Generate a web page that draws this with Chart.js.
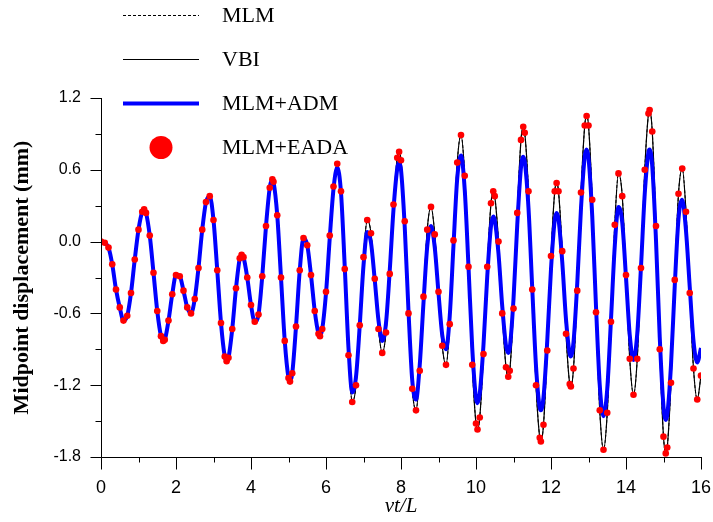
<!DOCTYPE html>
<html>
<head>
<meta charset="utf-8">
<script src="https://cdn.jsdelivr.net/npm/chart.js@4.4.0/dist/chart.umd.min.js"></script>
<style>
  html, body { margin: 0; padding: 0; background: #fff; }
</style>
</head>
<body>
<canvas id="chartMidpoint" width="713" height="522"></canvas>
<script>
// Tempo adimensional vt/L
const t = [
  0, 0.1, 0.2, 0.3, 0.4, 0.5, 0.6, 0.7, 0.8, 0.9,
  1.0, 1.1, 1.15, 1.2, 1.3, 1.4, 1.5, 1.6, 1.66, 1.7, 1.8, 1.9,
  2.0, 2.1, 2.2, 2.3, 2.4, 2.5, 2.6, 2.7, 2.8, 2.9,
  3.0, 3.1, 3.2, 3.3, 3.35, 3.4, 3.5, 3.6, 3.7, 3.75, 3.8, 3.9,
  4.0, 4.1, 4.2, 4.3, 4.4, 4.5, 4.57, 4.6, 4.7, 4.8, 4.9,
  5.0, 5.04, 5.1, 5.2, 5.3, 5.4, 5.5, 5.6, 5.7, 5.8, 5.84, 5.9,
  6.0, 6.1, 6.2, 6.3, 6.4, 6.5, 6.6, 6.7, 6.8, 6.9,
  7.0, 7.1, 7.2, 7.3, 7.4, 7.5, 7.6, 7.7, 7.8, 7.9, 7.95,
  8.0, 8.1, 8.2, 8.3, 8.4, 8.5, 8.6, 8.7, 8.8, 8.9,
  9.0, 9.1, 9.2, 9.3, 9.4, 9.5, 9.6, 9.7, 9.8, 9.9,
  10.0, 10.04, 10.1, 10.2, 10.3, 10.4, 10.46, 10.5, 10.6, 10.7, 10.8, 10.86, 10.9,
  11.0, 11.1, 11.2, 11.26, 11.3, 11.4, 11.5, 11.6, 11.7, 11.73, 11.8, 11.9,
  12.0, 12.1, 12.15, 12.2, 12.3, 12.4, 12.5, 12.53, 12.6, 12.7, 12.8, 12.9, 12.95,
  13.0, 13.1, 13.2, 13.3, 13.4, 13.5, 13.6, 13.7, 13.8, 13.9,
  14.0, 14.1, 14.2, 14.3, 14.4, 14.5, 14.6, 14.63, 14.7, 14.8, 14.9,
  15.0, 15.06, 15.1, 15.2, 15.3, 15.4, 15.5, 15.6, 15.7, 15.8, 15.9,
  16.0
];

// Deslocamento no meio do vão (mm) - solução VBI (MLM e MLM+EADA coincidem com ela)
const vbi = [
  0, -0.01, -0.05, -0.19, -0.40, -0.55, -0.66, -0.62, -0.43, -0.15,
  0.10, 0.25, 0.27, 0.24, 0.05, -0.26, -0.58, -0.79, -0.83, -0.82, -0.66, -0.44,
  -0.28, -0.29, -0.41, -0.55, -0.60, -0.48, -0.22, 0.10, 0.33, 0.38,
  0.18, -0.24, -0.68, -0.96, -1.00, -0.97, -0.73, -0.39, -0.14, -0.11, -0.13, -0.30,
  -0.53, -0.67, -0.61, -0.29, 0.13, 0.45, 0.52, 0.50, 0.22, -0.30, -0.83,
  -1.14, -1.17, -1.10, -0.71, -0.24, 0.03, -0.03, -0.28, -0.58, -0.77, -0.79, -0.73,
  -0.42, 0.05, 0.46, 0.65, 0.42, -0.23, -0.95, -1.34, -1.20, -0.70,
  -0.13, 0.18, 0.07, -0.31, -0.73, -0.93, -0.76, -0.27, 0.31, 0.70, 0.75,
  0.68, 0.17, -0.60, -1.23, -1.41, -1.08, -0.46, 0.10, 0.29, 0.06,
  -0.42, -0.87, -1.03, -0.69, 0.01, 0.66, 0.89, 0.55, -0.21, -1.03,
  -1.52, -1.57, -1.47, -0.94, -0.21, 0.32, 0.42, 0.38, 0.00, -0.60, -1.05, -1.13, -1.08,
  -0.56, 0.24, 0.85, 0.96, 0.91, 0.42, -0.40, -1.20, -1.64, -1.67, -1.53, -0.91,
  -0.12, 0.42, 0.49, 0.42, -0.08, -0.77, -1.19, -1.21, -1.06, -0.41, 0.41, 0.97, 1.05,
  0.97, 0.35, -0.59, -1.41, -1.74, -1.43, -0.67, 0.14, 0.57, 0.38,
  -0.28, -0.98, -1.28, -0.98, -0.22, 0.60, 1.07, 1.10, 0.92, 0.13, -0.90,
  -1.63, -1.77, -1.72, -1.18, -0.32, 0.40, 0.61, 0.25, -0.43, -1.06, -1.32,
  -1.12
];

// Deslocamento no meio do vão (mm) - MLM+ADM
const adm = [
  0, -0.01, -0.05, -0.19, -0.40, -0.55, -0.66, -0.62, -0.43, -0.15,
  0.10, 0.25, 0.27, 0.24, 0.05, -0.26, -0.58, -0.79, -0.83, -0.82, -0.66, -0.44,
  -0.28, -0.29, -0.41, -0.55, -0.60, -0.48, -0.22, 0.10, 0.33, 0.38,
  0.18, -0.24, -0.68, -0.96, -1.00, -0.97, -0.73, -0.39, -0.14, -0.11, -0.13, -0.30,
  -0.53, -0.67, -0.61, -0.29, 0.13, 0.45, 0.52, 0.50, 0.22, -0.30, -0.83,
  -1.14, -1.17, -1.10, -0.71, -0.24, 0.03, -0.03, -0.28, -0.58, -0.77, -0.79, -0.73,
  -0.43, 0.03, 0.44, 0.62, 0.41, -0.21, -0.89, -1.26, -1.13, -0.70,
  -0.20, 0.08, -0.01, -0.32, -0.66, -0.83, -0.68, -0.24, 0.27, 0.61, 0.66,
  0.60, 0.12, -0.58, -1.16, -1.32, -1.03, -0.51, -0.04, 0.13, -0.05,
  -0.43, -0.78, -0.90, -0.62, -0.03, 0.53, 0.72, 0.43, -0.21, -0.89,
  -1.31, -1.35, -1.27, -0.86, -0.29, 0.13, 0.21, 0.18, -0.10, -0.54, -0.87, -0.93, -0.89,
  -0.48, 0.14, 0.62, 0.71, 0.67, 0.28, -0.39, -1.04, -1.39, -1.41, -1.30, -0.83,
  -0.23, 0.18, 0.24, 0.19, -0.17, -0.65, -0.94, -0.96, -0.84, -0.35, 0.28, 0.71, 0.77,
  0.70, 0.21, -0.54, -1.20, -1.46, -1.23, -0.65, -0.04, 0.29, 0.16,
  -0.30, -0.78, -0.99, -0.77, -0.21, 0.40, 0.75, 0.77, 0.63, 0.01, -0.80,
  -1.38, -1.49, -1.45, -1.03, -0.37, 0.19, 0.35, 0.09, -0.38, -0.83, -1.01,
  -0.89
];

// Rótulos dos eixos
const xTicks = [0, 2, 4, 6, 8, 10, 12, 14, 16];
const yTicks = [-1.8, -1.2, -0.6, 0, 0.6, 1.2];

const pts = arr => t.map((x, i) => ({ x: x, y: arr[i] }));

// Eixos com marcas maiores nos rótulos e menores entre eles
const axisLines = {
  id: 'axisLines',
  afterDraw(chart) {
    const { ctx, chartArea: a, scales: { x, y } } = chart;
    const left = Math.round(a.left) + 0.5;
    const bottom = Math.round(a.bottom) + 0.5;
    ctx.save();
    ctx.strokeStyle = '#000';
    ctx.lineWidth = 1;
    ctx.beginPath();
    ctx.moveTo(left, Math.round(a.top));
    ctx.lineTo(left, bottom);
    ctx.lineTo(Math.round(a.right) + 1, bottom);
    for (let v = xTicks[0]; v <= xTicks[xTicks.length - 1]; v++) {
      const px = Math.round(x.getPixelForValue(v)) + 0.5;
      const len = v % 2 === 0 ? 12 : 5;
      ctx.moveTo(px, bottom);
      ctx.lineTo(px, bottom + len);
    }
    for (let k = 0; k < yTicks.length * 2 - 1; k++) {
      const v = yTicks[0] + k * 0.3;
      const py = Math.round(y.getPixelForValue(v)) + 0.5;
      const len = k % 2 === 0 ? 11 : 6;
      ctx.moveTo(left, py);
      ctx.lineTo(left - len, py);
    }
    ctx.stroke();
    ctx.restore();
  }
};

// Legenda em coluna no topo, sobre a área do gráfico
const columnLegend = {
  id: 'columnLegend',
  afterDraw(chart) {
    const ctx = chart.ctx;
    ctx.save();
    ctx.font = '22px "Liberation Serif", "Times New Roman", serif';
    ctx.textBaseline = 'middle';
    chart.data.datasets.forEach((ds, i) => {
      const yy = 15.5 + i * 44;
      if (ds.showLine === false) {
        ctx.fillStyle = ds.pointBackgroundColor;
        ctx.beginPath();
        ctx.arc(161, yy, 11.5, 0, Math.PI * 2);
        ctx.fill();
      } else {
        ctx.strokeStyle = ds.borderColor;
        ctx.lineWidth = ds.borderWidth;
        ctx.setLineDash(ds.borderDash || []);
        ctx.beginPath();
        ctx.moveTo(123, yy);
        ctx.lineTo(199, yy);
        ctx.stroke();
        ctx.setLineDash([]);
      }
      ctx.fillStyle = '#000';
      ctx.fillText(ds.label, 222, yy + 1);
    });
    ctx.restore();
  }
};

const ctx = document.getElementById('chartMidpoint').getContext('2d');
new Chart(ctx, {
  type: 'line',
  data: {
    datasets: [
      {
        label: 'MLM',
        data: pts(vbi),
        borderColor: '#000',
        borderWidth: 1,
        borderDash: [3, 2],
        pointRadius: 0,
        cubicInterpolationMode: 'monotone',
        order: 4
      },
      {
        label: 'VBI',
        data: pts(vbi),
        borderColor: '#000',
        borderWidth: 1.2,
        pointRadius: 0,
        cubicInterpolationMode: 'monotone',
        order: 3
      },
      {
        label: 'MLM+ADM',
        data: pts(adm),
        borderColor: '#0000ff',
        borderWidth: 4,
        pointRadius: 0,
        cubicInterpolationMode: 'monotone',
        order: 2
      },
      {
        label: 'MLM+EADA',
        data: pts(vbi),
        showLine: false,
        pointRadius: 3.3,
        pointBorderWidth: 0,
        pointBackgroundColor: '#ff0000',
        backgroundColor: '#ff0000',
        order: 1
      }
    ]
  },
  options: {
    responsive: false,
    animation: false,
    events: [],
    layout: {
      padding: { top: 98, right: 12, left: 0, bottom: 0 }
    },
    plugins: {
      legend: { display: false },
      tooltip: { enabled: false }
    },
    scales: {
      x: {
        type: 'linear',
        min: 0,
        max: 16,
        afterBuildTicks: s => { s.ticks = xTicks.map(v => ({ value: v })); },
        afterFit: s => {
          s.height = 65;
          s.paddingLeft = 0;
          s.paddingRight = 0;
        },
        grid: { display: false, drawTicks: false },
        border: { display: false },
        ticks: {
          padding: 20,
          color: '#000',
          maxRotation: 0,
          autoSkip: false,
          font: { family: '"Liberation Sans", Arial, sans-serif', size: 18 }
        },
        title: {
          display: true,
          text: 'vt/L',
          color: '#000',
          font: { family: '"Liberation Serif", "Times New Roman", serif', size: 21, style: 'italic' },
          padding: { top: 0, bottom: 3 }
        }
      },
      y: {
        min: -1.8,
        max: 1.2,
        afterBuildTicks: s => { s.ticks = yTicks.map(v => ({ value: v })); },
        afterFit: s => {
          s.width = 101;
          s.paddingTop = 0;
          s.paddingBottom = 0;
        },
        grid: { display: false, drawTicks: false },
        border: { display: false },
        ticks: {
          padding: 20,
          color: '#000',
          font: { family: '"Liberation Sans", Arial, sans-serif', size: 16 },
          callback: v => Math.abs(v) < 1e-9 ? '0.0' : v.toFixed(1)
        },
        title: {
          display: true,
          text: 'Midpoint displacement (mm)',
          color: '#000',
          font: { family: '"Liberation Serif", "Times New Roman", serif', size: 22, weight: 'bold' },
          padding: { top: 9, bottom: 0 }
        }
      }
    }
  },
  plugins: [axisLines, columnLegend]
});
</script>
</body>
</html>
